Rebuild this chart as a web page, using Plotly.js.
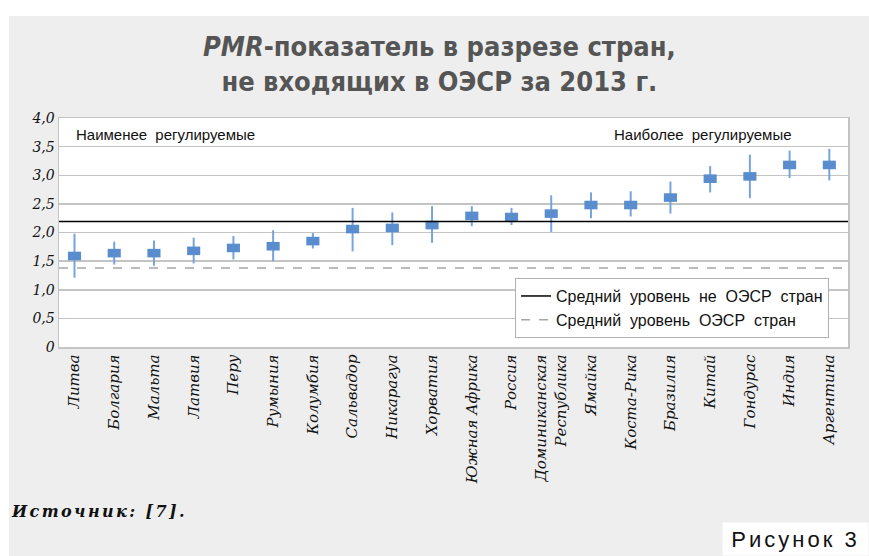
<!DOCTYPE html>
<html>
<head>
<meta charset="utf-8">
<script src="https://cdn.plot.ly/plotly-3.0.1.min.js"></script>
<style>
  html, body { margin: 0; padding: 0; background: #ffffff; width: 869px; height: 556px; overflow: hidden; }
  #chart { position: absolute; left: 9px; top: 16px; width: 860px; height: 540px; }
  #chart g.annotation[data-index="0"] text, #chart g.annotation[data-index="1"] text { word-spacing: 4px; }
  #chart g.annotation[data-index="2"] text { letter-spacing: 2.4px; }
  #chart g.annotation[data-index="3"] text { letter-spacing: 3px; }
</style>
</head>
<body>
<div id="chart"></div>
<script>
// ---- data ----
const countries = ["Литва", "Болгария", "Мальта", "Латвия", "Перу", "Румыния", "Колумбия",
  "Сальвадор", "Никарагуа", "Хорватия", "Южная Африка", "Россия", "Доминиканская<br>Республика",
  "Ямайка", "Коста-Рика", "Бразилия", "Китай", "Гондурас", "Индия", "Аргентина"];
const pmrValue = [1.59, 1.64, 1.64, 1.68, 1.73, 1.76, 1.85, 2.06, 2.08, 2.13, 2.29, 2.27, 2.33,
  2.48, 2.48, 2.61, 2.94, 2.98, 3.18, 3.18];
const pmrHigh = [1.98, 1.84, 1.86, 1.91, 1.94, 2.04, 1.99, 2.43, 2.35, 2.46, 2.46, 2.43, 2.65,
  2.70, 2.72, 2.89, 3.16, 3.36, 3.43, 3.46];
const pmrLow = [1.21, 1.44, 1.42, 1.46, 1.53, 1.50, 1.72, 1.67, 1.78, 1.82, 2.11, 2.13, 2.01,
  2.25, 2.28, 2.33, 2.70, 2.60, 2.95, 2.91];
const avgNonOECD = 2.19;
const avgOECD = 1.38;
const yTickVals = [0, 0.5, 1, 1.5, 2, 2.5, 3, 3.5, 4];
const yTickText = ["0", "0,5", "1,0", "1,5", "2,0", "2,5", "3,0", "3,5", "4,0"];

// ---- styles ----
const xRange = [-0.39, 19.47];
const boxHalf = 0.075;
const pos = countries.map((c, i) => i);
const serif = "DejaVu Serif, serif";
const sans = "Liberation Sans, Arial, sans-serif";

const whiskers = {
  type: "bar", x: pos, base: pmrLow, y: pmrHigh.map((h, i) => h - pmrLow[i]),
  width: 0.05, marker: { color: "#74a3dd", line: { width: 0 } },
  showlegend: false, hoverinfo: "skip"
};
const boxes = {
  type: "bar", x: pos, base: pmrValue.map(v => v - boxHalf), y: pmrValue.map(() => 2 * boxHalf),
  width: 0.33, marker: { color: "#5a8dce", line: { width: 0 } },
  showlegend: false, customdata: pmrValue, hovertemplate: "%{customdata}<extra></extra>"
};
const lineNon = {
  type: "scatter", mode: "lines", x: xRange, y: [avgNonOECD, avgNonOECD],
  line: { color: "#000000", width: 1.5 }, name: "Средний&nbsp; уровень&nbsp; не&nbsp; ОЭСР&nbsp; стран", cliponaxis: true
};
const lineOECD = {
  type: "scatter", mode: "lines", x: xRange, y: [avgOECD, avgOECD],
  line: { color: "#a6a6a6", width: 1.4, dash: "dash" }, name: "Средний&nbsp; уровень&nbsp; ОЭСР&nbsp; стран", cliponaxis: true
};

const layout = {
  width: 860, height: 540,
  paper_bgcolor: "#eeeeee", plot_bgcolor: "#ffffff",
  margin: { l: 50, r: 21, t: 102, b: 209 },
  barmode: "overlay",
  xaxis: {
    range: xRange, tickmode: "array", tickvals: pos, ticktext: countries, tickangle: -90,
    tickfont: { family: serif, size: 15, style: "italic", color: "#111111" },
    showgrid: false, zeroline: false, showline: true, mirror: true, linecolor: "#c4c4c4", linewidth: 1.5,
    ticks: "", fixedrange: true
  },
  yaxis: {
    range: [0, 4], tickmode: "array", tickvals: yTickVals, ticktext: yTickText,
    tickfont: { family: serif, size: 14, style: "italic", color: "#111111" },
    showgrid: true, gridcolor: "#c4c4c4", gridwidth: 1.5, zeroline: false,
    showline: true, mirror: true, linecolor: "#c4c4c4", linewidth: 1.5,
    ticks: "", fixedrange: true
  },
  legend: {
    x: 0.976, xanchor: "right", y: 0.301, yanchor: "top",
    bgcolor: "#ffffff", bordercolor: "#b0b0b0", borderwidth: 1, itemwidth: 30,
    font: { family: sans, size: 16, color: "#111111" }, tracegroupgap: 0
  },
  showlegend: true,
  annotations: [
    { text: "Наименее регулируемые", xref: "paper", yref: "paper", x: 0.0215, y: 0.926,
      xanchor: "left", yanchor: "middle", showarrow: false, font: { family: sans, size: 15, color: "#111111" } },
    { text: "Наиболее регулируемые", xref: "paper", yref: "paper", x: 0.929, y: 0.926,
      xanchor: "right", yanchor: "middle", showarrow: false, font: { family: sans, size: 15, color: "#111111" } },
    { text: "<b><i>Источник: [7].</i></b>", xref: "paper", yref: "paper", x: -0.0634, y: -0.72,
      xanchor: "left", yanchor: "middle", align: "left", showarrow: false, font: { family: serif, size: 16, color: "#111111" } },
    { text: "Рисунок 3", xref: "paper", yref: "paper", x: 1.0266, y: -0.9127,
      xanchor: "right", yanchor: "bottom", showarrow: false, width: 145, height: 32, align: "center",
      bgcolor: "#ffffff", borderpad: 0, font: { family: sans, size: 22, color: "#111111" } },
    { text: "<b><i>PMR</i>-показатель в разрезе стран,<br>не входящих в ОЭСР за 2013 г.</b>",
      xref: "paper", yref: "paper", x: 0.482, y: 1.39, xanchor: "center", yanchor: "top",
      showarrow: false, align: "center",
      font: { family: "DejaVu Sans Condensed, Liberation Sans Narrow, sans-serif", size: 27, color: "#555555" } }
  ]
};

Plotly.newPlot("chart", [whiskers, boxes, lineNon, lineOECD], layout, { displayModeBar: false, staticPlot: true });
</script>
</body>
</html>
